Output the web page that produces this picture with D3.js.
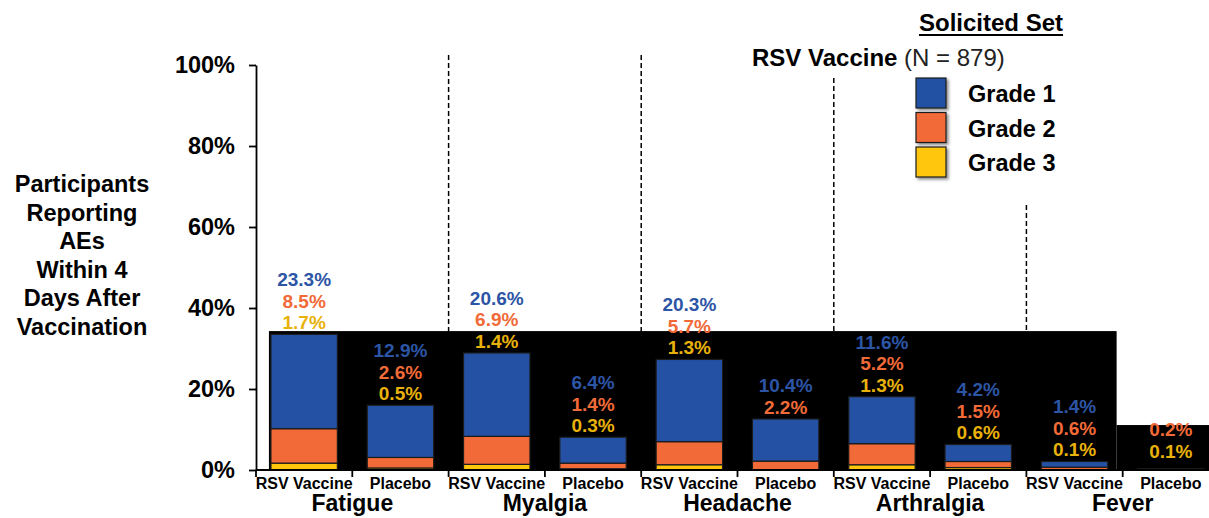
<!DOCTYPE html>
<html>
<head>
<meta charset="utf-8">
<script src="https://cdn.jsdelivr.net/npm/d3@7"></script>
<style>
  body { margin: 0; background: #fff; }
  svg { display: block; font-family: Arial, "Liberation Sans", sans-serif; }
</style>
</head>
<body>
<div class="chart"></div>
<script>
const categories = ["Fatigue", "Myalgia", "Headache", "Arthralgia", "Fever"];
const groups = ["RSV Vaccine", "Placebo"];
const grades = ["Grade 1", "Grade 2", "Grade 3"];

// percent of participants, per category
const grade1Vaccine = [23.3, 20.6, 20.3, 11.6, 1.4];
const grade2Vaccine = [8.5, 6.9, 5.7, 5.2, 0.6];
const grade3Vaccine = [1.7, 1.4, 1.3, 1.3, 0.1];
const grade1Placebo = [12.9, 6.4, 10.4, 4.2, null];
const grade2Placebo = [2.6, 1.4, 2.2, 1.5, 0.2];
const grade3Placebo = [0.5, 0.3, null, 0.6, 0.1];

const yTicks = [0, 20, 40, 60, 80, 100];
const yTitle = ["Participants", "Reporting", "AEs", "Within 4", "Days After", "Vaccination"];

const width = 1209, height = 518;
const fill = { "Grade 1": "#2451a3", "Grade 2": "#f26a37", "Grade 3": "#ffc60c" };
const textColor = { "Grade 1": "#2d55a6", "Grade 2": "#f26a37", "Grade 3": "#e9b20a" };

// one row per bar
const data = [];
categories.forEach((c, i) => {
  data.push({ cat: c, group: "RSV Vaccine", g: [grade1Vaccine[i], grade2Vaccine[i], grade3Vaccine[i]] });
  data.push({ cat: c, group: "Placebo", g: [grade1Placebo[i], grade2Placebo[i], grade3Placebo[i]] });
});
data.forEach(d => {
  d.key = d.cat + "|" + d.group;
  d.total = d3.sum(d.g, v => v || 0);
});

const x = d3.scaleBand()
  .domain(data.map(d => d.key))
  .range([256, 1219])
  .paddingInner(0.31)
  .paddingOuter(0.155);
const step = x.step();
const x0 = 256;

const y = d3.scaleLinear().domain([0, 100]).range([470, 65]);

const svg = d3.select(".chart").append("svg")
  .attr("width", width)
  .attr("height", height);

const defs = svg.append("defs");
const shadow = defs.append("filter").attr("id", "shadow")
  .attr("x", "-20%").attr("y", "-20%").attr("width", "150%").attr("height", "150%");
shadow.append("feDropShadow")
  .attr("dx", 2).attr("dy", 2).attr("stdDeviation", 1.5)
  .attr("flood-color", "#000").attr("flood-opacity", 0.45);

// dashed separators between categories
const sepTops = [55, 55, 78, 205];
svg.append("g").selectAll("line")
  .data(sepTops)
  .join("line")
  .attr("x1", (d, i) => x0 + (i + 1) * 2 * step)
  .attr("x2", (d, i) => x0 + (i + 1) * 2 * step)
  .attr("y1", d => d)
  .attr("y2", y(0))
  .attr("stroke", "#000")
  .attr("stroke-width", 1.5)
  .attr("stroke-dasharray", "5,3");

// black block behind the bars (as in the source picture)
const firstBar = data[0].key, lastBar = data[data.length - 1].key;
svg.append("rect")
  .attr("x", x(firstBar) - 2)
  .attr("y", y(34.3))
  .attr("width", x(lastBar) - 21 - (x(firstBar) - 2))
  .attr("height", y(0) - y(34.3))
  .attr("fill", "#000");
svg.append("rect")
  .attr("x", x(lastBar) - 21)
  .attr("y", y(11.1))
  .attr("width", width - (x(lastBar) - 21))
  .attr("height", y(0) - y(11.1))
  .attr("fill", "#000");

// stacked bars: grade 3 at bottom, then grade 2, then grade 1
const bars = svg.append("g").selectAll("g")
  .data(data)
  .join("g");

bars.each(function(d) {
  let base = 0;
  const segs = [];
  [2, 1, 0].forEach(k => {
    const v = d.g[k] || 0;
    segs.push({ grade: grades[k], y0: base, y1: base + v });
    base += v;
  });
  d3.select(this).selectAll("rect")
    .data(segs.filter(s => s.y1 > s.y0))
    .join("rect")
    .attr("x", x(d.key))
    .attr("width", x.bandwidth())
    .attr("y", s => y(s.y1))
    .attr("height", s => y(s.y0) - y(s.y1))
    .attr("fill", s => fill[s.grade])
    .attr("stroke", "#1b1b1b")
    .attr("stroke-width", 1.2);
});

// value labels above bars
bars.each(function(d) {
  const labels = [2, 1, 0]
    .filter(k => d.g[k] != null)
    .map(k => ({ grade: grades[k], v: d.g[k] }));
  const top = y(d.total);
  const lift = d.total < 1 ? 11 : 5;
  d3.select(this).selectAll("text")
    .data(labels)
    .join("text")
    .attr("x", x(d.key) + x.bandwidth() / 2)
    .attr("y", (l, i) => top - lift - i * 21.5)
    .attr("text-anchor", "middle")
    .attr("font-size", 19)
    .attr("font-weight", "bold")
    .attr("fill", l => textColor[l.grade])
    .text(l => l.v.toFixed(1) + "%");
});

// y axis
const yAxis = svg.append("g")
  .attr("transform", `translate(${x0},0)`)
  .call(d3.axisLeft(y).tickValues(yTicks).tickFormat(d => d + "%").tickSize(7).tickSizeOuter(0));
yAxis.select(".domain").attr("stroke", "#000").attr("stroke-width", 1.8);
yAxis.selectAll(".tick line").attr("stroke", "#000").attr("stroke-width", 1.8);
yAxis.selectAll(".tick text")
  .attr("x", -21)
  .attr("font-size", 23.5)
  .attr("font-weight", "bold")
  .attr("fill", "#000")
  .attr("font-family", "Arial, 'Liberation Sans', sans-serif");

// x axis line and ticks at every bar boundary
svg.append("line")
  .attr("x1", x0).attr("x2", width)
  .attr("y1", y(0)).attr("y2", y(0))
  .attr("stroke", "#000").attr("stroke-width", 1.8);
svg.append("g").selectAll("line")
  .data(d3.range(data.length + 1))
  .join("line")
  .attr("x1", i => x0 + i * step)
  .attr("x2", i => x0 + i * step)
  .attr("y1", y(0))
  .attr("y2", y(0) + 7)
  .attr("stroke", "#000")
  .attr("stroke-width", 1.8);

// group names under bars
svg.append("g").selectAll("text")
  .data(data)
  .join("text")
  .attr("x", d => x(d.key) + x.bandwidth() / 2)
  .attr("y", 489)
  .attr("text-anchor", "middle")
  .attr("font-size", 16)
  .attr("font-weight", "bold")
  .text(d => d.group);

// category names
svg.append("g").selectAll("text")
  .data(categories)
  .join("text")
  .attr("x", (d, i) => x0 + (2 * i + 1) * step)
  .attr("y", 511)
  .attr("text-anchor", "middle")
  .attr("font-size", 23)
  .attr("font-weight", "bold")
  .text(d => d);

// y title
svg.append("text")
  .attr("text-anchor", "middle")
  .attr("font-size", 23.5)
  .attr("font-weight", "bold")
  .selectAll("tspan")
  .data(yTitle)
  .join("tspan")
  .attr("x", 82)
  .attr("y", (d, i) => 192 + i * 28.6)
  .text(d => d);

// legend
const solicited = svg.append("text")
  .attr("x", 991)
  .attr("y", 31)
  .attr("text-anchor", "middle")
  .attr("font-size", 24)
  .attr("font-weight", "bold")
  .text("Solicited Set");
const sw = solicited.node().getComputedTextLength();
svg.append("line")
  .attr("x1", 991 - sw / 2).attr("x2", 991 + sw / 2)
  .attr("y1", 35).attr("y2", 35)
  .attr("stroke", "#000").attr("stroke-width", 1.8);

const nLine = svg.append("text")
  .attr("x", 752)
  .attr("y", 66)
  .attr("font-size", 24);
nLine.append("tspan").attr("font-weight", "bold").text("RSV Vaccine");
nLine.append("tspan").attr("fill", "#222").text(" (N = 879)");

const legend = svg.append("g").selectAll("g")
  .data(grades)
  .join("g")
  .attr("transform", (d, i) => `translate(916,${78 + i * 34.5})`);
legend.append("rect")
  .attr("width", 30)
  .attr("height", 30)
  .attr("fill", d => fill[d])
  .attr("stroke", "#1b1b1b")
  .attr("stroke-width", 1.2)
  .attr("filter", "url(#shadow)");
legend.append("text")
  .attr("x", 52)
  .attr("y", 24)
  .attr("font-size", 23.5)
  .attr("font-weight", "bold")
  .text(d => d);
</script>
</body>
</html>
